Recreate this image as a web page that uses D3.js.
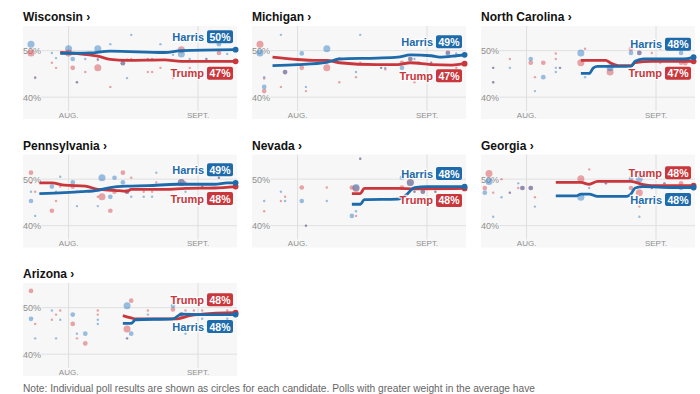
<!DOCTYPE html>
<html>
<head>
<meta charset="utf-8">
<script src="https://cdn.jsdelivr.net/npm/d3@7"></script>
<style>
  body { margin: 0; background: #fff; }
  svg { display: block; font-family: "Liberation Sans", Arial, sans-serif; }
</style>
</head>
<body>
<script>
// states, in the order the small multiples are laid out
const states = ["Wisconsin", "Michigan", "North Carolina", "Pennsylvania", "Nevada", "Georgia", "Arizona"];

// latest polling average shown in the labels
const harrisLatest = [50, 49, 48, 49, 48, 48, 48];
const trumpLatest = [47, 47, 47, 48, 48, 48, 48];

// polling averages: [date, pct]
const harrisAvg = [
  [["07-30", 49.4], ["08-06", 49.5], ["08-11", 49.9], ["08-24", 49.6], ["08-28", 50.0], ["09-10", 50.2]],
  [["07-26", 46.8], ["08-01", 47.0], ["08-08", 47.5], ["08-11", 48.2], ["08-20", 48.4], ["08-25", 48.6], ["08-28", 49.1], ["09-02", 48.9], ["09-04", 48.6], ["09-08", 48.9], ["09-10", 49.1]],
  [["08-14", 45.1], ["08-16", 45.1], ["08-17", 46.3], ["08-18", 46.6], ["08-26", 46.6], ["08-27", 47.7], ["08-29", 48.2], ["09-08", 48.2], ["09-10", 48.6]],
  [["07-25", 46.9], ["07-31", 47.1], ["08-04", 47.3], ["08-08", 47.6], ["08-11", 48.2], ["08-15", 48.5], ["08-20", 48.6], ["08-27", 48.9], ["09-05", 48.9], ["09-08", 49.2], ["09-10", 49.2]],
  [["08-14", 44.6], ["08-16", 44.6], ["08-17", 45.6], ["08-25", 45.7], ["08-27", 46.6], ["08-29", 48.2], ["09-01", 48.4], ["09-10", 48.4]],
  [["08-08", 46.4], ["08-13", 46.4], ["08-14", 46.8], ["08-16", 46.8], ["08-18", 46.3], ["08-25", 46.3], ["08-26", 46.8], ["08-27", 48.1], ["08-29", 48.4], ["09-05", 48.2], ["09-10", 48.2]],
  [["08-14", 46.6], ["08-16", 46.6], ["08-17", 47.4], ["08-26", 47.6], ["08-28", 48.6], ["09-02", 48.5], ["09-10", 48.5]]
];
const trumpAvg = [
  [["07-30", 49.6], ["08-06", 49.1], ["08-08", 48.8], ["08-11", 48.1], ["08-15", 47.9], ["08-24", 48.0], ["08-28", 47.7], ["09-10", 47.7]],
  [["07-26", 48.6], ["08-01", 48.1], ["08-05", 47.9], ["08-08", 47.9], ["08-11", 47.4], ["08-20", 47.0], ["08-25", 47.0], ["08-28", 47.4], ["09-02", 47.0], ["09-07", 46.9], ["09-10", 47.2]],
  [["08-14", 47.9], ["08-20", 47.9], ["08-21", 47.4], ["08-23", 46.8], ["08-26", 46.8], ["08-27", 47.4], ["08-31", 47.7], ["09-10", 47.7]],
  [["07-25", 49.2], ["07-28", 49.2], ["07-31", 48.7], ["08-05", 48.5], ["08-08", 47.8], ["08-12", 47.6], ["08-15", 47.4], ["08-16", 47.8], ["08-24", 47.8], ["08-29", 48.0], ["09-05", 48.1], ["09-10", 48.4]],
  [["08-14", 46.9], ["08-16", 46.9], ["08-17", 48.0], ["08-25", 48.0], ["08-29", 47.9], ["09-10", 48.0]],
  [["08-08", 49.3], ["08-14", 49.3], ["08-16", 48.9], ["08-18", 49.5], ["08-26", 49.5], ["08-29", 48.8], ["08-31", 48.6], ["09-10", 48.6]],
  [["08-14", 48.3], ["08-16", 47.8], ["08-17", 47.6], ["08-27", 47.6], ["08-30", 48.3], ["09-02", 48.6], ["09-10", 48.9]]
];

// individual polls: [date, harris, trump, weight 1-3]
const polls = [
  [["07-23", 51.4, 49.5, 3], ["07-24", 44.1, 44.3, 1], ["07-28", 49.5, 47.4, 1], ["07-29", 48.4, 46.3, 1], ["08-01", 50.4, 49.5, 3],
   ["08-02", 48.2, 46.3, 2], ["08-03", 43.2, 43.2, 1], ["08-05", 48.2, 45.4, 1], ["08-08", 50.4, 46.3, 3], ["08-08", 48.2, 48.0, 1],
   ["08-11", 51.4, 42.2, 1], ["08-14", 47.3, 47.3, 2], ["08-15", 44.1, 48.1, 1], ["08-16", 53.4, 48.2, 1], ["08-20", 48.2, 45.4, 1],
   ["08-21", 48.2, 45.4, 1], ["08-23", 51.4, 46.3, 1], ["08-26", 49.1, 44.1, 1], ["08-28", 49.3, 50.2, 3], ["08-30", 48.2, 46.3, 1],
   ["09-03", 48.2, 48.2, 1], ["09-06", 51.4, 49.5, 2], ["09-08", 49.3, 47.7, 1]],
  [["07-23", 49.5, 51.4, 3], ["07-24", 42.2, 41.3, 2], ["07-24", 44.3, 44.0, 1], ["07-28", 53.4, 42.2, 1], ["07-29", 45.4, 45.4, 2],
   ["08-02", 49.4, 46.3, 2], ["08-03", 42.2, 41.3, 1], ["08-08", 50.4, 46.3, 3], ["08-11", 48.4, 43.2, 1], ["08-15", 45.4, 44.3, 1],
   ["08-16", 53.4, 47.4, 1], ["08-21", 46.3, 46.3, 1], ["08-22", 46.3, 46.0, 1], ["08-26", 46.3, 47.4, 2], ["08-28", 48.2, 48.2, 2],
   ["08-29", 48.2, 43.2, 1], ["08-30", 47.4, 47.4, 1], ["09-02", 47.4, 47.4, 1], ["09-06", 49.4, 49.6, 2], ["09-08", 49.4, 46.3, 1]],
  [["07-24", 46.3, 46.3, 1], ["07-24", 43.2, 43.2, 1], ["07-28", 46.3, 48.2, 1], ["08-02", 48.2, 47.4, 2], ["08-03", 41.3, 44.3, 1],
   ["08-05", 44.3, 47.4, 2], ["08-08", 46.3, 49.4, 1], ["08-08", 45.4, 48.2, 1], ["08-09", 46.3, 46.3, 1], ["08-14", 49.5, 47.4, 3],
   ["08-15", 44.3, 50.4, 1], ["08-21", 46.3, 45.4, 3], ["08-26", 49.5, 50.4, 2], ["08-28", 49.5, 49.5, 2], ["08-31", 48.0, 49.5, 1],
   ["09-02", 50.4, 47.4, 1], ["09-07", 49.5, 47.4, 2], ["09-08", 48.0, 47.3, 2]],
  [["07-23", 45.3, 51.4, 2], ["07-23", 47.3, 49.2, 1], ["07-24", 42.1, 47.3, 1], ["07-28", 48.4, 43.2, 2], ["07-29", 47.3, 45.3, 1],
   ["07-30", 50.5, 48.4, 1], ["08-02", 49.3, 48.4, 2], ["08-03", 44.2, 47.3, 1], ["08-08", 44.2, 46.2, 1], ["08-09", 50.3, 46.2, 3],
   ["08-11", 46.2, 43.2, 2], ["08-12", 50.3, 47.3, 2], ["08-14", 49.3, 51.4, 2], ["08-15", 47.3, 47.3, 2], ["08-16", 46.2, 50.3, 1],
   ["08-19", 46.2, 47.3, 1], ["08-21", 46.2, 47.3, 1], ["08-22", 51.4, 49.3, 1], ["08-28", 49.3, 49.3, 3], ["08-29", 47.3, 49.3, 1],
   ["09-02", 48.4, 48.4, 1], ["09-06", 50.3, 50.3, 1]],
  [["07-24", 45.3, 43.1, 1], ["07-28", 47.3, 45.3, 1], ["07-29", 45.3, 46.2, 1], ["08-02", 45.3, 48.2, 2], ["08-03", 40.0, 40.0, 1],
   ["08-08", 45.3, 48.2, 1], ["08-14", 42.1, 48.2, 2], ["08-15", 48.2, 48.0, 3], ["08-15", 43.1, 42.1, 1], ["08-16", 54.4, 54.4, 1],
   ["08-26", 50.3, 48.2, 2], ["08-28", 49.3, 49.3, 3], ["08-29", 47.3, 47.3, 1], ["08-31", 47.3, 47.3, 2], ["09-03", 47.3, 47.3, 1]],
  [["07-22", 47.1, 48.1, 2], ["07-23", 49.5, 51.2, 3], ["07-24", 41.9, 47.1, 1], ["07-26", 46.1, 50.0, 1], ["07-28", 47.1, 47.1, 1],
   ["07-30", 49.1, 48.1, 1], ["07-31", 48.1, 48.1, 2], ["08-02", 48.1, 48.1, 2], ["08-03", 44.1, 46.1, 1], ["08-14", 46.1, 50.1, 3],
   ["08-16", 48.1, 52.1, 1], ["08-20", 49.1, 49.1, 1], ["08-26", 50.1, 48.1, 2], ["08-28", 50.1, 47.1, 3], ["08-28", 41.9, 44.1, 1],
   ["08-31", 48.1, 48.1, 1], ["09-03", 49.1, 49.1, 1], ["09-07", 48.1, 49.1, 2], ["09-10", 48.1, 48.1, 1]],
  [["07-23", 47.6, 53.6, 2], ["07-24", 43.4, 46.5, 1], ["07-28", 49.4, 47.4, 1], ["07-29", 43.4, 48.5, 1], ["07-30", 47.4, 49.4, 1],
   ["08-02", 48.5, 46.5, 2], ["08-03", 44.4, 43.4, 1], ["08-05", 44.4, 42.3, 2], ["08-08", 46.5, 49.4, 1], ["08-08", 47.4, 48.5, 1],
   ["08-15", 50.4, 45.4, 3], ["08-15", 43.4, 43.4, 1], ["08-16", 44.4, 51.5, 2], ["08-20", 48.5, 49.4, 1], ["08-26", 50.4, 49.6, 2],
   ["08-28", 48.5, 48.5, 2], ["08-29", 44.4, 49.4, 1], ["08-31", 48.5, 49.4, 1], ["09-02", 47.6, 49.4, 1], ["09-08", 47.6, 49.4, 1]]
];

// axis ticks
const monthTicks = ["08-01", "09-01"];
const monthLabels = ["AUG.", "SEPT."];
const pctTicks = [50, 40];

const parseDay = d3.timeParse("%Y-%m-%d");
const day = s => parseDay("2024-" + s);

const blue = "#1d6bab", red = "#c9363b";
const panelW = 214, panelH = 93;

const x = d3.scaleTime()
  .domain([new Date(2024, 6, 21, 2), new Date(2024, 8, 10, 8)])
  .range([0, panelW]);
const y = d3.scaleLinear().domain([35.3, 55.3]).range([panelH, 0]);
const r = d3.scaleLinear().domain([1, 3]).range([1.2, 3.5]);

const line = d3.line()
  .x(d => x(day(d[0])))
  .y(d => y(d[1]))
  .curve(d3.curveMonotoneX);

const svg = d3.select("body").append("svg")
  .attr("width", 700)
  .attr("height", 394);

states.forEach((name, i) => {
  const col = i % 3, row = Math.floor(i / 3);
  const g = svg.append("g")
    .attr("transform", `translate(${23 + col * 229}, ${26 + row * 128.5})`);

  // title
  g.append("text")
    .attr("x", 0).attr("y", -5)
    .style("font-size", "12px").style("font-weight", "700")
    .style("fill", "#121212")
    .text(name + " \u203A");

  // plot background
  g.append("rect")
    .attr("width", panelW).attr("height", panelH)
    .style("fill", "#f7f7f7");

  // month gridlines and labels
  g.selectAll(".vgrid").data(monthTicks).enter().append("line")
    .attr("x1", d => x(day(d))).attr("x2", d => x(day(d)))
    .attr("y1", 0).attr("y2", panelH - 8)
    .style("stroke", "#dedede");
  g.selectAll(".month").data(monthTicks).enter().append("text")
    .attr("x", d => x(day(d))).attr("y", panelH - 1.5)
    .attr("text-anchor", "middle")
    .style("font-size", "8px").style("fill", "#8f8f8f")
    .text((d, j) => monthLabels[j]);

  // pct gridlines and labels
  g.selectAll(".hgrid").data(pctTicks).enter().append("line")
    .attr("x1", 0).attr("x2", panelW)
    .attr("y1", d => y(d)).attr("y2", d => y(d))
    .style("stroke", "#e0e0e0");
  g.selectAll(".pct").data(pctTicks).enter().append("text")
    .attr("x", 0).attr("y", d => y(d) + 3.5)
    .style("font-size", "9px").style("fill", "#8f8f8f")
    .style("stroke", "#f7f7f7").style("stroke-width", 2).style("paint-order", "stroke")
    .text(d => d + "%");

  // poll dots, trump then harris
  g.selectAll(".tdot").data(polls[i]).enter().append("circle")
    .attr("cx", d => x(day(d[0]))).attr("cy", d => y(d[2]))
    .attr("r", d => r(d[3]))
    .style("fill", "#d6454b").style("fill-opacity", 0.48);
  g.selectAll(".hdot").data(polls[i]).enter().append("circle")
    .attr("cx", d => x(day(d[0]))).attr("cy", d => y(d[1]))
    .attr("r", d => r(d[3]))
    .style("fill", "#2f7bc2").style("fill-opacity", 0.48);

  // average lines with end dots
  [[trumpAvg[i], red], [harrisAvg[i], blue]].forEach(([pts, c]) => {
    g.append("path")
      .attr("d", line(pts))
      .style("fill", "none").style("stroke", c)
      .style("stroke-width", 2.8).style("stroke-linejoin", "round");
    const last = pts[pts.length - 1];
    g.append("circle")
      .attr("cx", x(day(last[0]))).attr("cy", y(last[1]))
      .attr("r", 2.9).style("fill", c);
  });

  // end labels: higher candidate above the lines, other below
  const hEnd = harrisAvg[i][harrisAvg[i].length - 1][1];
  const tEnd = trumpAvg[i][trumpAvg[i].length - 1][1];
  const harrisTop = hEnd >= tEnd;
  const topY = y(Math.max(hEnd, tEnd)) - 13;
  const botY = y(Math.min(hEnd, tEnd)) + 12;
  const labels = [
    { name: "Harris", val: harrisLatest[i], c: blue, cy: harrisTop ? topY : botY },
    { name: "Trump", val: trumpLatest[i], c: red, cy: harrisTop ? botY : topY }
  ];
  const boxW = 26, boxH = 13, boxX = panelW - 4 - boxW;
  labels.forEach(l => {
    g.append("rect")
      .attr("x", boxX).attr("y", l.cy - boxH / 2)
      .attr("width", boxW).attr("height", boxH).attr("rx", 2)
      .style("fill", l.c);
    g.append("text")
      .attr("x", boxX + boxW / 2).attr("y", l.cy + 4)
      .attr("text-anchor", "middle")
      .style("font-size", "10.5px").style("font-weight", "700").style("fill", "#fff")
      .text(l.val + "%");
    g.append("text")
      .attr("x", boxX - 3).attr("y", l.cy + 4)
      .attr("text-anchor", "end")
      .style("font-size", "11px").style("font-weight", "700").style("fill", l.c)
      .style("stroke", "#fff").style("stroke-width", 2.5).style("stroke-opacity", 0.8)
      .style("paint-order", "stroke")
      .text(l.name);
  });
});

// footnote
svg.append("text")
  .attr("x", 23).attr("y", 391.5)
  .style("font-size", "10.2px").style("fill", "#666")
  .text("Note: Individual poll results are shown as circles for each candidate. Polls with greater weight in the average have");
</script>
</body>
</html>
